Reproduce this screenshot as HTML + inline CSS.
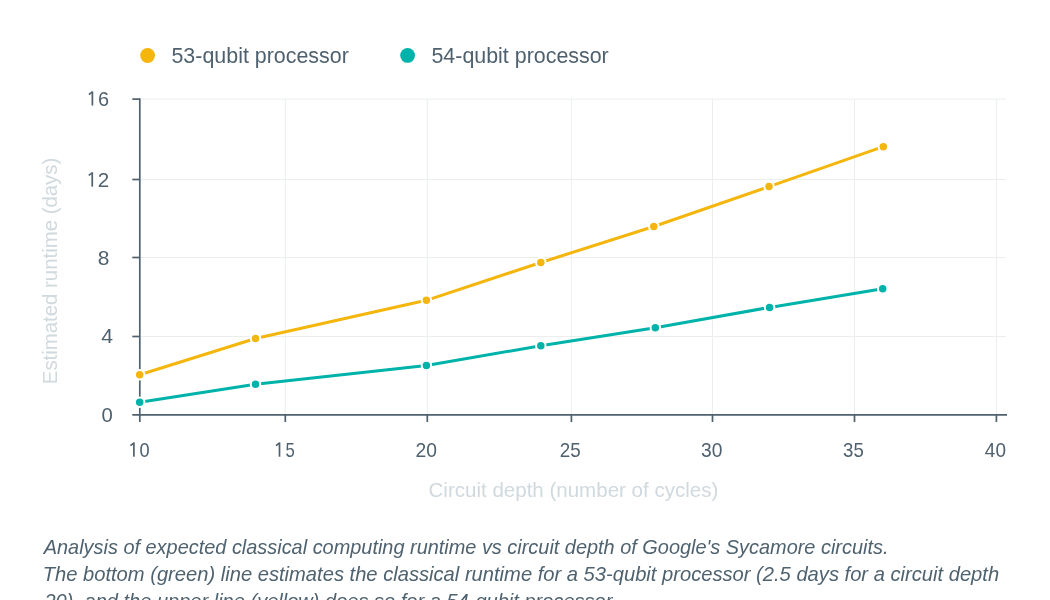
<!DOCTYPE html>
<html><head><meta charset="utf-8">
<style>
html,body{margin:0;padding:0;background:#fff;width:1050px;height:600px;overflow:hidden}
svg{display:block;will-change:transform;filter:blur(0.35px)}
text{font-family:"Liberation Sans",sans-serif;font-kerning:none}
</style></head>
<body>
<svg width="1050" height="600" viewBox="0 0 1050 600">
<rect width="1050" height="600" fill="#fff"/>

<circle cx="147.6" cy="55.5" r="7.4" fill="#f4b60c"/>
<text x="171.44" y="63.00" font-size="21.5" fill="#4f616e" textLength="177.41" lengthAdjust="spacingAndGlyphs">53-qubit processor</text>
<circle cx="407.6" cy="55.4" r="7.4" fill="#00b3aa"/>
<text x="431.44" y="63.00" font-size="21.5" fill="#4f616e" textLength="177.31" lengthAdjust="spacingAndGlyphs">54-qubit processor</text>
<g stroke="#eceeee" stroke-width="1" fill="none"><line x1="140.8" y1="99.1" x2="1006" y2="99.1"/><line x1="140.8" y1="179.5" x2="1006" y2="179.5"/><line x1="140.8" y1="257.5" x2="1006" y2="257.5"/><line x1="140.8" y1="336.5" x2="1006" y2="336.5"/><line x1="285.3" y1="99" x2="285.3" y2="413.85"/><line x1="427.3" y1="99" x2="427.3" y2="413.85"/><line x1="571.4" y1="99" x2="571.4" y2="413.85"/><line x1="712.5" y1="99" x2="712.5" y2="413.85"/><line x1="854.5" y1="99" x2="854.5" y2="413.85"/><line x1="996.4" y1="99" x2="996.4" y2="413.85"/></g>
<g stroke="#4f616e" stroke-width="1.7" fill="none"><line x1="139.8" y1="98.2" x2="139.8" y2="422"/><line x1="132.3" y1="414.85" x2="1007" y2="414.85"/><line x1="132.3" y1="99.1" x2="139.8" y2="99.1"/><line x1="132.3" y1="179.5" x2="139.8" y2="179.5"/><line x1="132.3" y1="257.5" x2="139.8" y2="257.5"/><line x1="132.3" y1="336.5" x2="139.8" y2="336.5"/><line x1="285.3" y1="414.85" x2="285.3" y2="422"/><line x1="427.3" y1="414.85" x2="427.3" y2="422"/><line x1="571.4" y1="414.85" x2="571.4" y2="422"/><line x1="712.5" y1="414.85" x2="712.5" y2="422"/><line x1="854.5" y1="414.85" x2="854.5" y2="422"/><line x1="996.4" y1="414.85" x2="996.4" y2="422"/></g>
<rect x="91.55" y="91.30" width="1.7" height="14.20" fill="#4f616e"/><line x1="88.90" y1="94.50" x2="92.10" y2="92.15" stroke="#4f616e" stroke-width="1.6"/><text x="97.99" y="105.50" font-size="20.8" fill="#4f616e" textLength="11.09" lengthAdjust="spacingAndGlyphs">6</text>
<rect x="91.40" y="172.20" width="1.7" height="14.50" fill="#4f616e"/><line x1="88.75" y1="175.40" x2="91.95" y2="173.05" stroke="#4f616e" stroke-width="1.6"/><text x="97.86" y="186.70" font-size="20.8" fill="#4f616e" textLength="11.48" lengthAdjust="spacingAndGlyphs">2</text>
<text x="97.69" y="264.70" font-size="20.8" fill="#4f616e" textLength="11.62" lengthAdjust="spacingAndGlyphs">8</text>
<text x="101.31" y="343.40" font-size="20.8" fill="#4f616e" textLength="11.81" lengthAdjust="spacingAndGlyphs">4</text>
<text x="101.51" y="421.70" font-size="20.8" fill="#4f616e" textLength="11.29" lengthAdjust="spacingAndGlyphs">0</text>
<rect x="133.05" y="442.39" width="1.7" height="14.31" fill="#4f616e"/><line x1="130.40" y1="445.59" x2="133.60" y2="443.24" stroke="#4f616e" stroke-width="1.6"/><text x="139.39" y="456.70" font-size="20.8" fill="#4f616e" textLength="10.12" lengthAdjust="spacingAndGlyphs">0</text>
<rect x="278.65" y="442.39" width="1.7" height="14.31" fill="#4f616e"/><line x1="276.00" y1="445.59" x2="279.20" y2="443.24" stroke="#4f616e" stroke-width="1.6"/><text x="285.43" y="456.70" font-size="20.8" fill="#4f616e" textLength="9.27" lengthAdjust="spacingAndGlyphs">5</text>
<text x="415.53" y="456.70" font-size="20.8" fill="#4f616e" textLength="21.42" lengthAdjust="spacingAndGlyphs">20</text>
<text x="559.85" y="456.70" font-size="20.8" fill="#4f616e" textLength="20.94" lengthAdjust="spacingAndGlyphs">25</text>
<text x="701.07" y="456.70" font-size="20.8" fill="#4f616e" textLength="21.38" lengthAdjust="spacingAndGlyphs">30</text>
<text x="843.09" y="456.70" font-size="20.8" fill="#4f616e" textLength="20.69" lengthAdjust="spacingAndGlyphs">35</text>
<text x="984.87" y="456.70" font-size="20.8" fill="#4f616e" textLength="21.07" lengthAdjust="spacingAndGlyphs">40</text>
<text x="428.56" y="497.20" font-size="20.5" fill="#d0d9de" textLength="289.71" lengthAdjust="spacingAndGlyphs">Circuit depth (number of cycles)</text>
<g transform="translate(57.3,0) rotate(-90)"><text x="-384.17" y="0.00" font-size="20.5" fill="#d0d9de" textLength="226.43" lengthAdjust="spacingAndGlyphs">Estimated runtime (days)</text></g>
<polyline fill="none" stroke="#f4b60c" stroke-width="3" stroke-linejoin="round" points="139.7,374.7 255.5,338.5 426.4,300.3 540.8,262.5 653.8,226.5 769.0,186.6 883.3,146.7"/>
<polyline fill="none" stroke="#00b3aa" stroke-width="3" stroke-linejoin="round" points="139.7,402.2 255.5,384.2 426.4,365.4 540.8,345.8 655.3,327.7 769.6,307.4 882.7,288.7"/>
<g fill="#f4b60c" stroke="#fff" stroke-width="2"><circle cx="139.7" cy="374.7" r="4.75"/><circle cx="255.5" cy="338.5" r="4.75"/><circle cx="426.4" cy="300.3" r="4.75"/><circle cx="540.8" cy="262.5" r="4.75"/><circle cx="653.8" cy="226.5" r="4.75"/><circle cx="769.0" cy="186.6" r="4.75"/><circle cx="883.3" cy="146.7" r="4.75"/></g>
<g fill="#00b3aa" stroke="#fff" stroke-width="2"><circle cx="139.7" cy="402.2" r="4.75"/><circle cx="255.5" cy="384.2" r="4.75"/><circle cx="426.4" cy="365.4" r="4.75"/><circle cx="540.8" cy="345.8" r="4.75"/><circle cx="655.3" cy="327.7" r="4.75"/><circle cx="769.6" cy="307.4" r="4.75"/><circle cx="882.7" cy="288.7" r="4.75"/></g>
<text x="43.78" y="553.60" font-size="21" fill="#4f626f" font-style="italic" textLength="844.66" lengthAdjust="spacingAndGlyphs">Analysis of expected classical computing runtime vs circuit depth of Google's Sycamore circuits.</text>
<text x="42.69" y="580.50" font-size="21" fill="#4f626f" font-style="italic" textLength="956.44" lengthAdjust="spacingAndGlyphs">The bottom (green) line estimates the classical runtime for a 53-qubit processor (2.5 days for a circuit depth</text>
<text x="44.42" y="608.10" font-size="21" fill="#4f626f" font-style="italic" textLength="573.54" lengthAdjust="spacingAndGlyphs">20), and the upper line (yellow) does so for a 54-qubit processor.</text>
</svg>
</body></html>
